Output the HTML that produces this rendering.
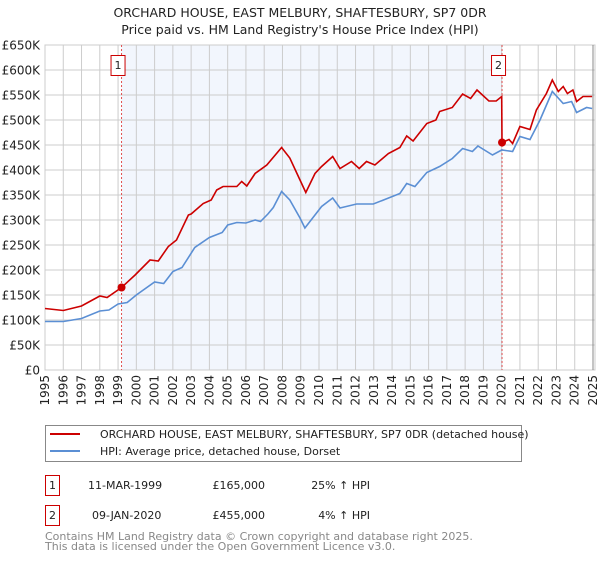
<!DOCTYPE html>
<html><head><meta charset="utf-8"><style>
body{margin:0;background:#fff;font-family:"DejaVu Sans","Liberation Sans",sans-serif;}
svg text{font-family:"DejaVu Sans","Liberation Sans",sans-serif;}
</style></head><body>
<svg width="600" height="560" viewBox="0 0 600 560" id="c">
<text x="300" y="17" text-anchor="middle" font-size="12.5" fill="#222">ORCHARD HOUSE, EAST MELBURY, SHAFTESBURY, SP7 0DR</text>
<text x="300" y="34" text-anchor="middle" font-size="12.5" fill="#222">Price paid vs. HM Land Registry's House Price Index (HPI)</text>
<g id="plot"></g>
<g>
<rect x="45.5" y="425.5" width="476" height="36" fill="#fff" stroke="#888"/>
<line x1="50" y1="434" x2="80" y2="434" stroke="#cc0000" stroke-width="2"/>
<text x="100" y="438" font-size="11" fill="#222">ORCHARD HOUSE, EAST MELBURY, SHAFTESBURY, SP7 0DR (detached house)</text>
<line x1="50" y1="451" x2="80" y2="451" stroke="#5b8fd4" stroke-width="2"/>
<text x="100" y="455" font-size="11" fill="#222">HPI: Average price, detached house, Dorset</text>
</g>
<g font-size="11" fill="#222">
<rect x="45.5" y="475.5" width="14" height="20" fill="#fff" stroke="#cc0000"/>
<text x="52.5" y="489" text-anchor="middle">1</text>
<text x="88" y="489">11-MAR-1999</text>
<text x="265" y="489" text-anchor="end">£165,000</text>
<text x="370" y="489" text-anchor="end">25% ↑ HPI</text>
<rect x="45.5" y="505.5" width="14" height="20" fill="#fff" stroke="#cc0000"/>
<text x="52.5" y="519" text-anchor="middle">2</text>
<text x="92" y="519">09-JAN-2020</text>
<text x="265" y="519" text-anchor="end">£455,000</text>
<text x="370" y="519" text-anchor="end">4% ↑ HPI</text>
</g>
<text x="45" y="540" font-size="11" fill="#888">Contains HM Land Registry data © Crown copyright and database right 2025.</text>
<text x="45" y="550" font-size="11" fill="#888">This data is licensed under the Open Government Licence v3.0.</text>
</svg>
<script>
const hpiYears=[1995,1996,1996.5,1997,1998,1998.5,1999,1999.5,2000,2001,2001.5,2002,2002.5,2003.2,2004,2004.7,2005,2005.5,2006,2006.5,2006.8,2007.2,2007.5,2007.95,2008.4,2008.96,2009.23,2010.14,2010.75,2011.15,2012.06,2012.97,2014.43,2014.8,2015.25,2015.9,2016.6,2017.3,2017.86,2018.4,2018.7,2019.5,2020.0,2020.6,2021.0,2021.55,2022.1,2022.77,2023.37,2023.83,2024.1,2024.65,2024.95];
const hpiValues=[97,97,100,103,118,120,132,135,150,176,173,197,205,245,265,275,290,295,294,300,297,312,325,357,340,304,284,327,344,324,332,332,353,373,367,395,407,423,443,437,448,430,440,437,467,461,500,557,533,537,515,525,523];
const priceYears=[1995,1996,1997,1998,1998.4,1999.19,1999.93,2000.75,2001.2,2001.75,2002.2,2002.85,2003.0,2003.66,2004.1,2004.4,2004.75,2005.5,2005.77,2006.05,2006.5,2007.14,2007.95,2008.4,2008.96,2009.28,2009.78,2010.14,2010.75,2011.15,2011.78,2012.2,2012.6,2013.06,2013.8,2014.43,2014.8,2015.15,2015.9,2016.4,2016.6,2017.3,2017.86,2018.3,2018.65,2019.3,2019.7,2020.0,2020.02,2020.4,2020.6,2021.0,2021.55,2021.9,2022.45,2022.77,2023.1,2023.37,2023.6,2023.9,2024.1,2024.45,2024.95];
const priceValues=[123,119,128,148,145,165,190,220,218,247,260,310,312,333,340,360,367,367,377,368,393,410,445,424,380,355,393,407,427,403,417,403,417,410,433,445,468,458,493,500,517,525,552,543,560,538,538,547,455,461,453,487,481,520,553,580,557,567,553,560,537,547,547];
const yTicks=[0,50,100,150,200,250,300,350,400,450,500,550,600,650];
const yTickLabels=["£0","£50K","£100K","£150K","£200K","£250K","£300K","£350K","£400K","£450K","£500K","£550K","£600K","£650K"];
const xTicks=[1995,1996,1997,1998,1999,2000,2001,2002,2003,2004,2005,2006,2007,2008,2009,2010,2011,2012,2013,2014,2015,2016,2017,2018,2019,2020,2021,2022,2023,2024,2025];
const saleYears=[1999.19,2020.02];
const saleValues=[165,455];
const saleLabels=["1","2"];
const L=45,R=595,T=45,B=370;
const xs=y=>L+(y-1995)*(593-45)/30;
const ys=v=>B-(v/650)*(B-T);
const NS="http://www.w3.org/2000/svg";
const g=document.getElementById('plot');
function mk(t,a,p){const e=document.createElementNS(NS,t);for(const k in a)e.setAttribute(k,a[k]);(p||g).appendChild(e);return e;}
let e=mk('rect',{x:xs(saleYears[0]),y:T,width:xs(saleYears[1])-xs(saleYears[0]),height:B-T,fill:'#f2f6fd'});


xTicks.forEach((t,i)=>{let l=mk('line',{x1:xs(t),x2:xs(t),y1:T,y2:B,stroke:'#ccc'});


let tx=mk('text',{x:0,y:0,'font-size':'12',fill:'#222','text-anchor':'end',transform:`translate(${xs(t)+4},375) rotate(-90)`});
tx.textContent=t;

});
yTicks.forEach((t,i)=>{let l=mk('line',{x1:L,x2:R,y1:ys(t),y2:ys(t),stroke:'#ccc'});


let tx=mk('text',{x:40,y:ys(t)+4.5,'font-size':'12',fill:'#222','text-anchor':'end'});
tx.textContent=yTickLabels[i];

});
e=mk('rect',{x:L,y:T,width:R-L,height:B-T,fill:'none',stroke:'#ccc'});


e=mk('line',{x1:xs(2025),x2:xs(2025),y1:T,y2:B,stroke:'#888'});


saleYears.forEach((s,i)=>{let l=mk('line',{x1:xs(s),x2:xs(s),y1:T,y2:B,stroke:'#e05050','stroke-dasharray':'2,2'});


let r=mk('rect',{x:xs(s)-10.5,y:55.5,width:14,height:20,fill:'#fff',stroke:'#cc0000'});


let tx=mk('text',{x:xs(s)-3.5,y:69,'font-size':'11',fill:'#222','text-anchor':'middle'});
tx.textContent=saleLabels[i];

});
function path(xa,va){return xa.map((x,i)=>(i?'L':'M')+xs(x).toFixed(1)+','+ys(va[i]).toFixed(1)).join('');}
e=mk('path',{d:path(hpiYears,hpiValues),fill:'none',stroke:'#5b8fd4','stroke-width':'1.6'});


e=mk('path',{d:path(priceYears,priceValues),fill:'none',stroke:'#cc0000','stroke-width':'1.6'});


saleYears.forEach((s,i)=>{let c=mk('circle',{cx:xs(s),cy:ys(saleValues[i]),r:4,fill:'#cc0000'});

});
</script>
</body></html>
